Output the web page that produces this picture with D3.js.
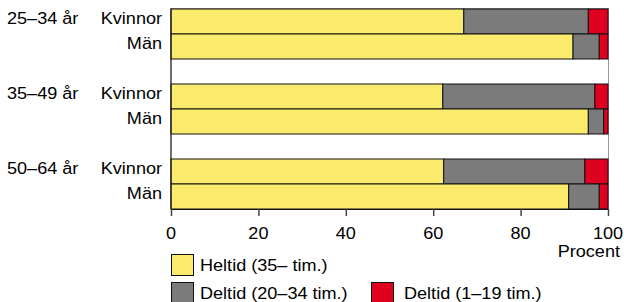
<!DOCTYPE html>
<html>
<head>
<meta charset="utf-8">
<script src="https://cdn.jsdelivr.net/npm/d3@7"></script>
<style>
  body { margin: 0; background: #fff; }
  svg text { font-family: "Liberation Sans", Arial, sans-serif; font-size: 16px; fill: #000; }
</style>
</head>
<body>
<div id="chart"></div>
<script>
// age groups and sexes, one bar per (group, sex)
const groups = ['25–34 år', '35–49 år', '50–64 år'];
const sexes = ['Kvinnor', 'Män'];
const heltid = [67, 92, 62.2, 95.5, 62.4, 91];      // Heltid (35– tim.)
const deltid20 = [28.5, 6, 34.8, 3.5, 32.3, 7];     // Deltid (20–34 tim.)
const deltid1 = [4.5, 2, 3, 1, 5.3, 2];             // Deltid (1–19 tim.)
const xTicks = [0, 20, 40, 60, 80, 100];

const seriesNames = ['Heltid (35– tim.)', 'Deltid (20–34 tim.)', 'Deltid (1–19 tim.)'];
const colors = ['#fbeb6c', '#7b7b7b', '#e0001f'];

const width = 624, height = 302;
const stretch = 1.13;

const svg = d3.select('#chart').append('svg')
  .attr('width', width)
  .attr('height', height);

// slot keys: two bars per group, blank slot in between groups
const slots = [];
groups.forEach((g, gi) => {
  sexes.forEach(s => slots.push(`${gi}-${s}`));
  if (gi < groups.length - 1) slots.push(`gap${gi}`);
});

const x = d3.scaleLinear().domain([0, 100]).range([171, 608]);
const y = d3.scaleBand().domain(slots).range([9, 209]).padding(0);

const rows = [];
groups.forEach((g, gi) => {
  sexes.forEach((s, si) => {
    const i = gi * 2 + si;
    rows.push({ key: `${gi}-${s}`, group: g, sex: s, first: si === 0, values: [heltid[i], deltid20[i], deltid1[i]] });
  });
});

const label = (sel, tx, ty, anchor, txt) => sel.append('text')
  .attr('transform', `translate(${tx},${ty}) scale(${stretch},1)`)
  .attr('text-anchor', anchor)
  .text(txt);

// plot frame
svg.append('rect')
  .attr('x', x(0)).attr('y', y.range()[0] - 0.5)
  .attr('width', x(100) - x(0) + 0.5).attr('height', y.range()[1] - y.range()[0] + 0.5)
  .attr('fill', 'none').attr('stroke', '#9a9a9a').attr('stroke-width', 1);

// stacked bars
const barG = svg.append('g');
rows.forEach(r => {
  let acc = 0;
  r.values.forEach((v, k) => {
    barG.append('rect')
      .attr('x', x(acc))
      .attr('y', y(r.key))
      .attr('width', x(acc + v) - x(acc))
      .attr('height', y.bandwidth())
      .attr('fill', colors[k])
      .attr('stroke', '#111')
      .attr('stroke-width', 1);
    acc += v;
  });
});

// row labels
const labG = svg.append('g');
rows.forEach(r => {
  const cy = y(r.key) + y.bandwidth() / 2 + 2.7;
  label(labG, 162, cy, 'end', r.sex);
  if (r.first) label(labG, 7, cy, 'start', r.group);
});

// x axis
const axis = svg.append('g')
  .attr('transform', `translate(0,${y.range()[1]})`)
  .call(d3.axisBottom(x).tickValues(xTicks).tickSize(7).tickSizeOuter(0).tickFormat(d3.format('d')));
axis.select('.domain').attr('stroke', '#111');
axis.selectAll('.tick line').attr('stroke', '#444').attr('stroke-width', 1.5);
axis.selectAll('.tick text').remove();
xTicks.forEach(t => label(axis, x(t), 29.5, 'middle', t));

// left axis line
svg.append('line')
  .attr('x1', x(0)).attr('x2', x(0))
  .attr('y1', y.range()[0] - 0.5).attr('y2', y.range()[1])
  .attr('stroke', '#111');

label(svg, 620, 257, 'end', 'Procent');

// legend
const legend = [
  { name: seriesNames[0], c: colors[0], bx: 171, by: 254, tx: 200 },
  { name: seriesNames[1], c: colors[1], bx: 171, by: 282, tx: 200 },
  { name: seriesNames[2], c: colors[2], bx: 371, by: 282, tx: 404 }
];
const legG = svg.append('g');
legend.forEach(d => {
  legG.append('rect')
    .attr('x', d.bx + 0.5).attr('y', d.by + 0.5)
    .attr('width', 22).attr('height', 21)
    .attr('fill', d.c).attr('stroke', '#111');
  label(legG, d.tx, d.by + 17, 'start', d.name);
});
</script>
</body>
</html>
